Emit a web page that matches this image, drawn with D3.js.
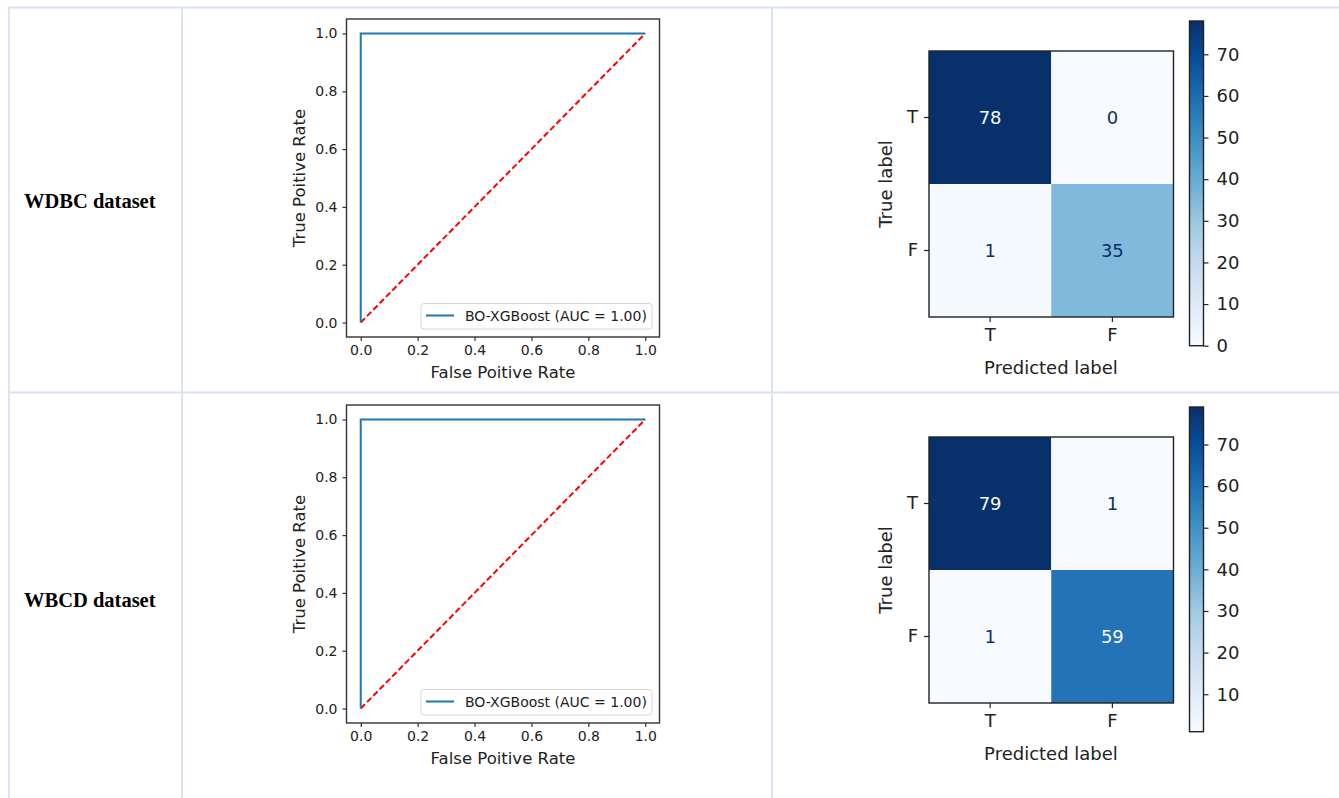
<!DOCTYPE html>
<html>
<head>
<meta charset="utf-8">
<script src="https://cdn.jsdelivr.net/npm/d3@7"></script>
<style>
  body { margin: 0; background: #fff; }
  svg text { font-family: "DejaVu Sans", sans-serif; fill: #222; }
</style>
</head>
<body>
<svg id="fig" width="1339" height="798"></svg>
<script>
// data
const datasets = ["WDBC dataset", "WBCD dataset"];
const rocFpr = [0, 0, 1];
const rocTpr = [0, 1, 1];
const rocLabel = "BO-XGBoost (AUC = 1.00)";
const rocTicks = [0, 0.2, 0.4, 0.6, 0.8, 1.0];
const classLabels = ["T", "F"];
const wdbcMatrix = [[78, 0], [1, 35]];
const wbcdMatrix = [[79, 1], [1, 59]];
const wdbcColorTicks = [0, 10, 20, 30, 40, 50, 60, 70];
const wbcdColorTicks = [10, 20, 30, 40, 50, 60, 70];
const blues = ["#f7fbff", "#deebf7", "#c6dbef", "#9ecae1", "#6baed6",
               "#4292c6", "#2171b5", "#08519c", "#08306b"];

const svg = d3.select("#fig");
const rowOffset = [0, 386];
const matrices = [wdbcMatrix, wbcdMatrix];
const colorTicks = [wdbcColorTicks, wbcdColorTicks];

// table borders
const border = "#dbe4f0";
const grid = svg.append("g").attr("stroke", border).attr("stroke-width", 2);
[7.5, 392.5].forEach((y) =>
  grid.append("line").attr("x1", 9).attr("x2", 1339).attr("y1", y).attr("y2", y)
);
[9, 182, 772].forEach((x) =>
  grid.append("line").attr("x1", x).attr("x2", x).attr("y1", 6.5).attr("y2", 798)
);

// row labels
datasets.forEach((name, i) => {
  svg
    .append("text")
    .attr("x", 24)
    .attr("y", 208 + rowOffset[i] + (i ? 13 : 0))
    .style("font-family", "'Liberation Serif', 'Times New Roman', serif")
    .style("font-weight", "bold")
    .style("font-size", "20.5px")
    .style("fill", "#000")
    .text(name);
});

datasets.forEach((name, i) => {
  rocChart(svg.append("g").attr("transform", `translate(0,${rowOffset[i]})`));
  confusionChart(
    svg.append("g").attr("transform", `translate(0,${rowOffset[i]})`),
    matrices[i],
    colorTicks[i],
    "cm" + i
  );
});

function rocChart(g) {
  const x = d3.scaleLinear().domain([-0.05, 1.05]).range([346.5, 659.5]);
  const y = d3.scaleLinear().domain([-0.05, 1.05]).range([337, 19]);

  // diagonal
  g.append("line")
    .attr("x1", x(0)).attr("y1", y(0))
    .attr("x2", x(1)).attr("y2", y(1))
    .attr("stroke", "red")
    .attr("stroke-width", 2)
    .attr("stroke-dasharray", "6,3");

  // roc curve
  const pts = rocFpr.map((f, k) => [f, rocTpr[k]]);
  g.append("path")
    .datum(pts)
    .attr("fill", "none")
    .attr("stroke", "#1f77b4")
    .attr("stroke-width", 2)
    .attr("d", d3.line().x((d) => x(d[0])).y((d) => y(d[1])));

  // frame
  g.append("rect")
    .attr("x", x.range()[0]).attr("y", y.range()[1])
    .attr("width", x.range()[1] - x.range()[0])
    .attr("height", y.range()[0] - y.range()[1])
    .attr("fill", "none")
    .attr("stroke", "#333")
    .attr("stroke-width", 1.4);

  const xAxis = g.append("g")
    .attr("transform", `translate(0,${y.range()[0]})`)
    .call(d3.axisBottom(x).tickValues(rocTicks).tickFormat(d3.format(".1f")).tickSize(4).tickPadding(4));
  const yAxis = g.append("g")
    .attr("transform", `translate(${x.range()[0]},0)`)
    .call(d3.axisLeft(y).tickValues(rocTicks).tickFormat(d3.format(".1f")).tickSize(4).tickPadding(5));
  [xAxis, yAxis].forEach((a) => {
    a.select(".domain").remove();
    a.selectAll("line").attr("stroke", "#333").attr("stroke-width", 1.2);
    a.selectAll("text").style("font-size", "14px").style("font-family", "DejaVu Sans");
  });

  g.append("text")
    .attr("x", (x.range()[0] + x.range()[1]) / 2)
    .attr("y", 378)
    .attr("text-anchor", "middle")
    .style("font-size", "16.5px")
    .text("False Poitive Rate");
  g.append("text")
    .attr("transform", `translate(305,${(y.range()[0] + y.range()[1]) / 2}) rotate(-90)`)
    .attr("text-anchor", "middle")
    .style("font-size", "16.5px")
    .text("True Poitive Rate");

  // legend
  const lg = g.append("g").attr("transform", `translate(${x.range()[1] - 238.5},${y.range()[0] - 33.5})`);
  lg.append("rect")
    .attr("width", 231).attr("height", 25.5).attr("rx", 3)
    .attr("fill", "#fff").attr("stroke", "#d6d6d6");
  lg.append("line")
    .attr("x1", 5).attr("x2", 33).attr("y1", 12).attr("y2", 12)
    .attr("stroke", "#1f77b4").attr("stroke-width", 2);
  lg.append("text")
    .attr("x", 44).attr("y", 17.5)
    .style("font-size", "14px")
    .text(rocLabel);
}

function confusionChart(g, matrix, ticks, id) {
  const flat = matrix.flat();
  const vmin = d3.min(flat), vmax = d3.max(flat);
  const color = d3.scaleLinear()
    .domain(blues.map((c, k) => vmin + (k * (vmax - vmin)) / (blues.length - 1)))
    .range(blues);

  const x = d3.scaleBand().domain(classLabels).range([929, 1173.5]);
  const y = d3.scaleBand().domain(classLabels).range([51, 317]);

  const cells = [];
  matrix.forEach((row, r) => row.forEach((v, c) => cells.push({ r, c, v })));

  g.selectAll("rect.cell")
    .data(cells)
    .join("rect")
    .attr("class", "cell")
    .attr("x", (d) => x(classLabels[d.c]))
    .attr("y", (d) => y(classLabels[d.r]))
    .attr("width", x.bandwidth())
    .attr("height", y.bandwidth())
    .attr("fill", (d) => color(d.v));

  const thresh = (vmin + vmax) / 2;
  g.selectAll("text.val")
    .data(cells)
    .join("text")
    .attr("class", "val")
    .attr("x", (d) => x(classLabels[d.c]) + x.bandwidth() / 2)
    .attr("y", (d) => y(classLabels[d.r]) + y.bandwidth() / 2)
    .attr("dy", "0.36em")
    .attr("text-anchor", "middle")
    .style("font-size", "18px")
    .style("fill", (d) => (d.v < thresh ? blues[8] : blues[0]))
    .text((d) => d.v);

  g.append("rect")
    .attr("x", 929).attr("y", 51)
    .attr("width", 1173.5 - 929).attr("height", 317 - 51)
    .attr("fill", "none").attr("stroke", "#222").attr("stroke-width", 1.4);

  const xAxis = g.append("g")
    .attr("transform", `translate(0,317)`)
    .call(d3.axisBottom(x).tickSize(5).tickPadding(6));
  const yAxis = g.append("g")
    .attr("transform", `translate(929,0)`)
    .call(d3.axisLeft(y).tickSize(5).tickPadding(6));

  // colorbar
  const cb = d3.scaleLinear().domain([vmin, vmax]).range([345.7, 21]);
  const grad = g.append("defs").append("linearGradient")
    .attr("id", id).attr("x1", 0).attr("x2", 0).attr("y1", 1).attr("y2", 0);
  blues.forEach((c, k) =>
    grad.append("stop").attr("offset", k / (blues.length - 1)).attr("stop-color", c)
  );
  g.append("rect")
    .attr("x", 1189.5).attr("y", cb.range()[1])
    .attr("width", 14).attr("height", cb.range()[0] - cb.range()[1])
    .attr("fill", `url(#${id})`)
    .attr("stroke", "#222").attr("stroke-width", 1.4);
  const cAxis = g.append("g")
    .attr("transform", `translate(1203.5,0)`)
    .call(d3.axisRight(cb).tickValues(ticks).tickSize(5).tickPadding(8));

  [xAxis, yAxis, cAxis].forEach((a) => {
    a.select(".domain").remove();
    a.selectAll("line").attr("stroke", "#222").attr("stroke-width", 1.2);
    a.selectAll("text").style("font-size", "18px").style("font-family", "DejaVu Sans");
  });

  g.append("text")
    .attr("x", 1051).attr("y", 374)
    .attr("text-anchor", "middle")
    .style("font-size", "18px")
    .text("Predicted label");
  g.append("text")
    .attr("transform", `translate(892,184) rotate(-90)`)
    .attr("text-anchor", "middle")
    .style("font-size", "18px")
    .text("True label");
}
</script>
</body>
</html>
